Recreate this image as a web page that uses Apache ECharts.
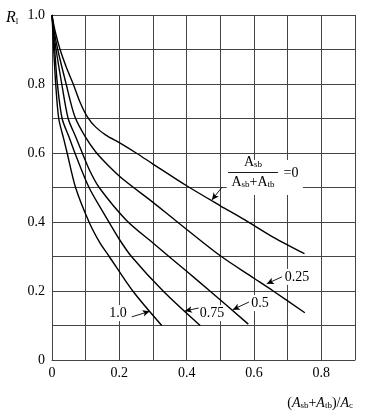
<!DOCTYPE html>
<html><head><meta charset="utf-8">
<script src="https://cdn.jsdelivr.net/npm/echarts@6/dist/echarts.min.js"></script>
<style>html,body{margin:0;padding:0;background:#fff}#c{width:365px;height:415px}</style>
</head><body><div id="c"></div>
<script>
// Curve labels: A_sb/(A_sb+A_tb)
const ratioNames = ['0', '0.25', '0.5', '0.75', '1.0'];
// Curve 0
const x0 = [0, 0.01, 0.024, 0.042, 0.063, 0.083, 0.105, 0.13, 0.16, 0.2, 0.25, 0.3, 0.4, 0.5, 0.573, 0.65, 0.75];
const y0 = [1, 0.95, 0.9, 0.85, 0.8, 0.748, 0.705, 0.675, 0.652, 0.63, 0.6, 0.568, 0.505, 0.447, 0.406, 0.36, 0.308];
// Curve 0.25
const x25 = [0, 0.007, 0.017, 0.042, 0.068, 0.1, 0.13, 0.167, 0.212, 0.3, 0.365, 0.5, 0.6, 0.657, 0.751];
const y25 = [1, 0.95, 0.9, 0.8, 0.705, 0.645, 0.603, 0.564, 0.523, 0.457, 0.406, 0.302, 0.237, 0.2, 0.137];
// Curve 0.5
const x50 = [0, 0.005, 0.012, 0.029, 0.048, 0.07, 0.09, 0.113, 0.14, 0.22, 0.3, 0.4, 0.469, 0.583];
const y50 = [1, 0.95, 0.9, 0.8, 0.7, 0.648, 0.6, 0.547, 0.5, 0.406, 0.339, 0.257, 0.2, 0.104];
// Curve 0.75
const x75 = [0, 0.004, 0.008, 0.016, 0.03, 0.05, 0.068, 0.11, 0.157, 0.2, 0.236, 0.33, 0.44];
const y75 = [1, 0.95, 0.9, 0.8, 0.7, 0.648, 0.6, 0.5, 0.42, 0.35, 0.3, 0.2, 0.1];
// Curve 1.0
const x100 = [0, 0.005, 0.011, 0.02, 0.035, 0.045, 0.07, 0.11, 0.142, 0.17, 0.24, 0.326];
const y100 = [1, 0.9, 0.8, 0.7, 0.64, 0.6, 0.5, 0.4, 0.34, 0.3, 0.2, 0.1];

// Tick labels
const xTickLabels = ['0', '0.2', '0.4', '0.6', '0.8'];
const yTickLabels = ['0', '0.2', '0.4', '0.6', '0.8', '1.0'];

// Annotation anchors (data coords): label position, arrow start, arrow end
const labelPos = [[0.728, 0.241], [0.618, 0.165], [0.475, 0.136], [0.196, 0.136]];
const arrowFrom = [[0.505, 0.501], [0.683, 0.241], [0.585, 0.168], [0.437, 0.151], [0.237, 0.125]];
const arrowTo = [[0.475, 0.464], [0.638, 0.221], [0.537, 0.146], [0.395, 0.142], [0.29, 0.141]];

const FONT = '"Liberation Serif", "Times New Roman", serif';
const curvesX = [x0, x25, x50, x75, x100];
const curvesY = [y0, y25, y50, y75, y100];

const series = curvesX.map((xs, i) => ({
  name: ratioNames[i],
  type: 'line',
  z: 3,
  smooth: 0.3,
  symbol: 'none',
  lineStyle: { color: '#000', width: 1.4 },
  data: xs.map((x, j) => [x, curvesY[i][j]])
}));

const subRich = {
  a: { fontFamily: FONT, fontSize: 14, color: '#000' },
  ai: { fontFamily: FONT, fontSize: 14, fontStyle: 'italic', color: '#000' },
  s: { fontFamily: FONT, fontSize: 9, color: '#000', verticalAlign: 'bottom', padding: [5, 0, 0, 0] },
  t: { fontFamily: FONT, fontSize: 14, color: '#000' }
};

function txt(coord, text, bg) {
  return {
    coord: coord,
    symbol: 'circle', symbolSize: 1,
    itemStyle: { color: 'rgba(0,0,0,0)' },
    label: {
      show: true, position: 'inside', formatter: text,
      fontFamily: FONT, fontSize: 14, color: '#000',
      backgroundColor: bg ? '#fff' : 'transparent', padding: [1, 1],
      rich: subRich
    }
  };
}

const annoPoints = [
  txt([0.597, 0.573], '{a|A}{s|sb}', false),
  txt([0.597, 0.516], '{a|A}{s|sb}{a|+A}{s|tb}', false),
  txt([0.71, 0.542], '=0', false)
].concat(ratioNames.slice(1).map((n, i) => txt(labelPos[i], n, true)));

const arrows = arrowFrom.map((f, i) => [
  { coord: f, symbol: 'none', lineStyle: { curveness: i === 0 ? 0 : 0.25 } },
  { coord: arrowTo[i], symbol: 'arrow', symbolSize: [5, 7] }
]);
arrows.push([
  { coord: [0.523, 0.545], symbol: 'none' },
  { coord: [0.671, 0.545], symbol: 'none' }
]);

series.push({
  name: 'box', type: 'line', z: 1, data: [],
  markArea: {
    silent: true,
    itemStyle: { color: '#fff' },
    data: [[{ coord: [0.519, 0.58] }, { coord: [0.745, 0.478] }]]
  }
});
series.push({
  name: 'anno', type: 'line', z: 4, data: [],
  markLine: {
    silent: true, animation: false,
    symbol: ['none', 'arrow'],
    lineStyle: { color: '#000', width: 0.9, type: 'solid' },
    label: { show: false },
    data: arrows
  },
  markPoint: { silent: true, animation: false, data: annoPoints }
});

const chart = echarts.init(document.getElementById('c'), null, { renderer: 'canvas' });
const gridColor = '#444';
chart.setOption({
  animation: false,
  backgroundColor: '#fff',
  grid: { left: 52, right: 10, top: 15, bottom: 55, show: false },
  xAxis: {
    type: 'value', min: 0, max: 0.9, interval: 0.1,
    axisLine: { show: true, onZero: false, lineStyle: { color: gridColor, width: 1 } },
    axisTick: { show: false },
    splitLine: { show: true, lineStyle: { color: gridColor, width: 1 } },
    axisLabel: {
      color: '#000', fontFamily: FONT, fontSize: 14, margin: 6,
      formatter: v => { const k = Math.round(v * 10); return k % 2 === 0 ? xTickLabels[k / 2] || '' : ''; }
    }
  },
  yAxis: {
    type: 'value', min: 0, max: 1, interval: 0.1,
    axisLine: { show: true, lineStyle: { color: gridColor, width: 1 } },
    axisTick: { show: false },
    splitLine: { show: true, lineStyle: { color: gridColor, width: 1 } },
    axisLabel: {
      color: '#000', fontFamily: FONT, fontSize: 14, margin: 7,
      formatter: v => { const k = Math.round(v * 10); return k % 2 === 0 ? yTickLabels[k / 2] : ''; }
    }
  },
  graphic: [
    {
      type: 'text', left: 6, top: 10,
      style: { text: '{ri|R}{s|l}', rich: { ri: { fontFamily: FONT, fontSize: 16, fontStyle: 'italic', color: '#000' }, s: { fontFamily: FONT, fontSize: 9, color: '#000', verticalAlign: 'bottom', padding: [7, 0, 0, 0] } } }
    },
    {
      type: 'text', right: 12, top: 396,
      style: { text: '({ai|A}{s|sb}+{ai|A}{s|tb})/{ai|A}{s|c}', font: '14px ' + FONT, fill: '#000', rich: subRich }
    }
  ],
  series: series
});
</script>
</body></html>
